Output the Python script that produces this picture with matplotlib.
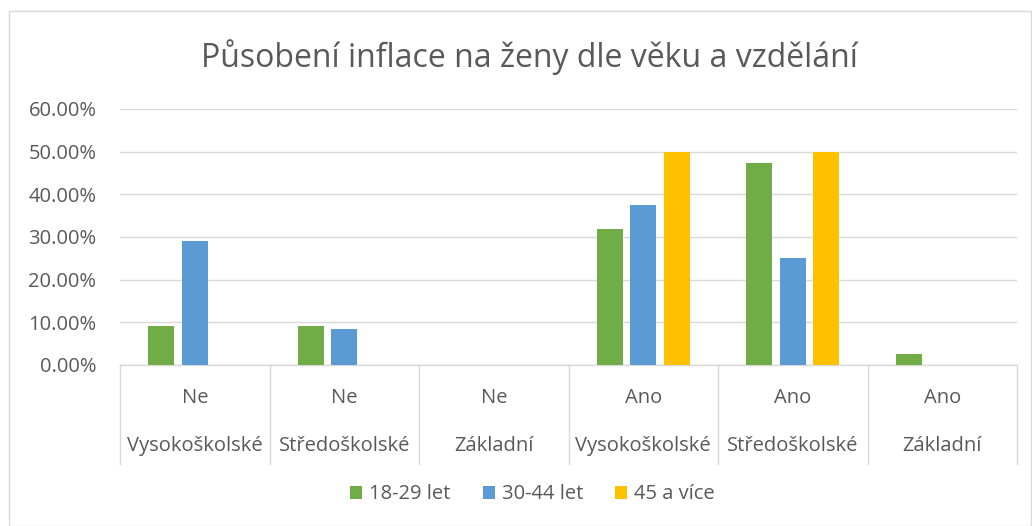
import matplotlib

matplotlib.use("Agg")
import matplotlib.pyplot as plt
import numpy as np
from matplotlib.patches import Rectangle

plt.rcParams["font.family"] = ["Open Sans", "DejaVu Sans"]

answers = ["Ne", "Ne", "Ne", "Ano", "Ano", "Ano"]
education = ["Vysokoškolské", "Středoškolské", "Základní",
             "Vysokoškolské", "Středoškolské", "Základní"]
series_names = ["18-29 let", "30-44 let", "45 a více"]
age_18_29 = [9.09, 9.09, 0.0, 31.82, 47.37, 2.63]
age_30_44 = [29.17, 8.33, 0.0, 37.50, 25.00, 0.0]
age_45_plus = [0.0, 0.0, 0.0, 50.00, 50.00, 0.0]
colors = ["#70ad47", "#5b9bd5", "#ffc000"]

fig = plt.figure(figsize=(10.32, 5.26), dpi=100)
fig.patches.append(Rectangle((0.009, 0.0), 0.99, 0.98, transform=fig.transFigure,
                             fill=False, edgecolor="#d9d9d9", linewidth=1.0))
ax = fig.add_axes([0.1163, 0.3061, 0.8692, 0.4867])

x = np.arange(len(answers))
width = 0.174
step = 0.224
for i, (vals, name) in enumerate(zip([age_18_29, age_30_44, age_45_plus], series_names)):
    ax.bar(x + (i - 1) * step, np.array(vals) / 100, width, color=colors[i],
           label=name, zorder=3)

ax.set_xlim(-0.5, len(answers) - 0.5)
ax.set_ylim(0, 0.6)
ax.set_yticks(np.arange(0, 0.61, 0.1))
ax.set_yticklabels([f"{v * 100:.2f}%" for v in np.arange(0, 0.61, 0.1)],
                   fontsize=14.5, color="#595959")
ax.tick_params(axis="y", length=0, pad=17)
ax.set_xticks([])
ax.grid(axis="y", color="#d9d9d9", linewidth=1.0, zorder=0)
for side in ["top", "right", "left"]:
    ax.spines[side].set_visible(False)
ax.spines["bottom"].set_color("#d9d9d9")
ax.spines["bottom"].set_linewidth(1.0)

trans = ax.get_xaxis_transform()
for b in np.arange(-0.5, len(answers), 1.0):
    ax.plot([b, b], [0, -0.385], transform=trans, color="#d9d9d9",
            linewidth=1.0, clip_on=False)
for xi, a, e in zip(x, answers, education):
    ax.text(xi, -0.13, a, transform=trans, ha="center", va="center",
            fontsize=14.5, color="#595959")
    ax.text(xi, -0.315, e, transform=trans, ha="center", va="center",
            fontsize=14.5, color="#595959")

fig.text(0.5126, 0.892, "Působení inflace na ženy dle věku a vzdělání",
         ha="center", va="center", fontsize=23, color="#595959")

ax.legend(loc="center", bbox_to_anchor=(0.516, 0.06), bbox_transform=fig.transFigure,
          ncol=3, frameon=False, fontsize=14.5, handlelength=0.6, handleheight=0.6,
          handletextpad=0.35, columnspacing=1.6, labelcolor="#595959")

fig.savefig("out.png", dpi=100)
